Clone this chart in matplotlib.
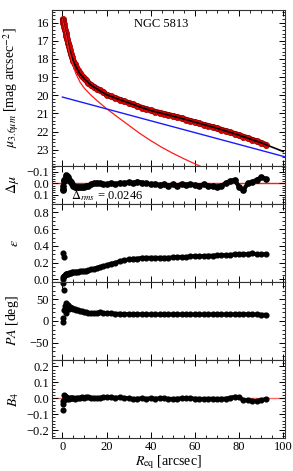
"""Isophote fit profile of NGC 5813: surface brightness, residuals, ellipticity, PA and B4."""
import matplotlib
matplotlib.use("Agg")
import matplotlib.pyplot as plt
from matplotlib.ticker import MultipleLocator

plt.rcParams["font.family"] = ["Liberation Serif", "DejaVu Serif"]
plt.rcParams["mathtext.fontset"] = "stix"
plt.rcParams["xtick.direction"] = "in"
plt.rcParams["ytick.direction"] = "in"

# isophote radii (arcsec)
R_ISO = [0.1, 0.3, 0.5, 0.7, 0.9, 1.2, 1.5, 1.8, 2.1, 2.5, 2.9, 3.3, 3.8,
         4.3, 4.9, 5.5, 6.2, 7.0, 7.8, 8.7, 9.6, 10.6, 11.7, 12.9, 14.2,
         15.6, 17.0, 18.5, 20, 22, 24, 26, 28, 30, 32, 34, 36, 38, 40, 42,
         44, 46, 48, 50, 52, 54, 56, 58, 60, 62, 64, 66, 68, 70, 72, 74, 76,
         78, 80, 82, 84, 86, 88, 90, 92]
MU_ISO = [15.82, 15.9, 16.0, 16.1, 16.22, 16.38, 16.55, 16.72, 16.88, 17.1,
          17.3, 17.5, 17.7, 17.9, 18.1, 18.28, 18.45, 18.62, 18.77, 18.92,
          19.05, 19.17, 19.3, 19.42, 19.53, 19.63, 19.73, 19.82, 19.97,
          20.06, 20.15, 20.24, 20.33, 20.42, 20.51, 20.6, 20.68, 20.76,
          20.84, 20.9, 20.96, 21.02, 21.08, 21.14, 21.2, 21.27, 21.34, 21.41,
          21.48, 21.55, 21.62, 21.68, 21.75, 21.82, 21.89, 21.97, 22.05,
          22.12, 22.2, 22.28, 22.36, 22.45, 22.53, 22.62, 22.72]
DMU_ISO = [0.05, 0.06, 0.02, -0.02, -0.03, -0.04, -0.05, -0.07, -0.06,
           -0.05, -0.03, -0.02, -0.01, 0.01, 0.02, 0.03, 0.03, 0.03, 0.03,
           0.03, 0.03, 0.025, 0.02, 0.01, 0.0, -0.005, 0.0, 0.005, 0.01,
           0.0, 0.01, -0.005, 0.0, -0.01, 0.0, -0.015, -0.005, 0.0, 0.01,
           0.005, 0.015, 0.01, 0.02, 0.01, 0.02, 0.005, 0.015, 0.01, 0.015,
           0.02, 0.01, 0.02, 0.025, 0.03, 0.02, 0.0, -0.02, -0.03, 0.03,
           0.06, 0.0, -0.01, -0.03, -0.05, -0.04]
ELL_ISO = [0.0, 0.03, 0.31, 0.27, 0.04, 0.05, 0.06, 0.06, 0.07, 0.07,
           0.075, 0.08, 0.08, 0.085, 0.085, 0.09, 0.09, 0.095, 0.1, 0.1,
           0.1, 0.105, 0.11, 0.12, 0.13, 0.14, 0.15, 0.16, 0.17, 0.19, 0.2,
           0.22, 0.23, 0.24, 0.25, 0.25, 0.26, 0.26, 0.26, 0.26, 0.26, 0.26,
           0.26, 0.265, 0.27, 0.27, 0.27, 0.275, 0.28, 0.28, 0.28, 0.285,
           0.285, 0.29, 0.29, 0.29, 0.295, 0.3, 0.3, 0.3, 0.305, 0.31, 0.3,
           0.3, 0.3]
PA_ISO = [87, -2, 6, 71, 25, 35, 41, 18, 30, 38, 28, 33, 30, 29, 28, 27, 26,
          25, 24, 22, 21, 20, 19, 18, 18, 19, 20, 19, 18, 18, 17, 17, 16, 16,
          16, 15.5, 15.5, 15, 15, 15, 15, 15, 15, 15, 15, 15, 15, 15, 15, 15,
          15, 15, 15, 15, 15, 15, 15, 15.5, 16, 16, 15.5, 15, 15, 14.6, 14.6]
B4_ISO = [-0.076, -0.035, -0.02, -0.01, 0.02, 0.015, 0.005, 0.0, -0.004,
          0.0, -0.002, 0.002, 0.0, 0.002, 0.0, -0.002, 0.0, 0.003, 0.004,
          0.005, 0.004, 0.006, 0.005, 0.004, 0.003, 0.002, 0.004, 0.005,
          0.006, 0.005, 0.004, 0.006, 0.003, 0.0, -0.004, -0.002, 0.0,
          -0.003, 0.0, -0.002, 0.0, 0.0, -0.003, -0.004, -0.002, 0.0, 0.002,
          0.0, -0.002, -0.003, -0.004, -0.003, -0.002, -0.004, -0.003,
          -0.002, 0.004, 0.01, 0.008, -0.014, -0.01, -0.016, -0.018, -0.012,
          -0.005]

# model components (arcsec, mag arcsec^-2)
R_MODEL = [0, 1, 2, 3, 4, 5, 6, 8, 10, 13, 16, 20, 25, 30, 35, 40, 45, 50,
           55, 60, 65, 70, 80, 90, 100]
MU_TOTAL = [15.8, 16.3, 16.83, 17.35, 17.8, 18.13, 18.4, 18.82, 19.1, 19.45,
            19.68, 19.97, 20.2, 20.42, 20.64, 20.84, 21.0, 21.15, 21.31,
            21.48, 21.65, 21.82, 22.2, 22.62, 23.1]
MU_BULGE = [15.8, 16.35, 16.88, 17.55, 18.0, 18.4, 18.78, 19.28, 19.62, 20.0,
            20.33, 20.74, 21.2, 21.65, 22.1, 22.5, 22.87, 23.2, 23.5, 23.78,
            24.05, 24.3, 24.8, 25.25, 25.7]
R_DISK = [0, 101]
MU_DISK = [20.1, 23.4]

DRMS = 0.0246


def draw_profile(ax, vals, start=0, ms=3.4):
    """Dense isophote sequence: markers, joined into a band past `start`."""
    ax.plot(R_ISO[start:], vals[start:], "-", color="k", lw=ms * 0.8,
            zorder=2, solid_capstyle="round")
    ax.plot(R_ISO, vals, "o", ms=ms, color="k", zorder=2)


fig = plt.figure(figsize=(2.93, 4.71), dpi=100)
left, width = 0.1775, 0.795
ax_mu = fig.add_axes([left, 0.6476, width, 0.3312])
ax_dmu = fig.add_axes([left, 0.5669, width, 0.0807], sharex=ax_mu)
ax_ell = fig.add_axes([left, 0.4013, width, 0.1656], sharex=ax_mu)
ax_pa = fig.add_axes([left, 0.2357, width, 0.1656], sharex=ax_mu)
ax_b4 = fig.add_axes([left, 0.0700, width, 0.1657], sharex=ax_mu)
axes = [ax_mu, ax_dmu, ax_ell, ax_pa, ax_b4]

# surface brightness
ax_mu.plot(R_ISO, MU_ISO, "-", color="#a00000", lw=4.0, zorder=2,
           solid_capstyle="round")
ax_mu.plot(R_ISO, MU_ISO, "o", ms=4.4, mfc="#e00000", mec="#8b0000",
           mew=0.5, zorder=2)
ax_mu.plot(R_MODEL, MU_TOTAL, color="k", lw=1.2, zorder=3)
ax_mu.plot(R_MODEL, MU_BULGE, color="#ff1a1a", lw=0.9, zorder=3)
ax_mu.plot(R_DISK, MU_DISK, color="#1a1aff", lw=1.0, zorder=3)
ax_mu.set_ylim(23.9, 15.3)
ax_mu.yaxis.set_major_locator(MultipleLocator(1))
ax_mu.yaxis.set_minor_locator(MultipleLocator(0.2))
ax_mu.set_ylabel(r"$\mu_{3.6\mu m}$ [mag arcsec$^{-2}$]", fontsize=10)
ax_mu.text(0.47, 0.95, "NGC 5813", transform=ax_mu.transAxes,
           ha="center", va="top", fontsize=9)

# residuals
ax_dmu.axhline(0, color="#ff1a1a", lw=1.0, zorder=1)
draw_profile(ax_dmu, DMU_ISO, start=2, ms=3.8)
ax_dmu.set_ylim(0.18, -0.15)
ax_dmu.yaxis.set_major_locator(MultipleLocator(0.1))
ax_dmu.yaxis.set_minor_locator(MultipleLocator(0.02))
ax_dmu.set_ylabel(r"$\Delta\mu$", fontsize=10)
ax_dmu.text(0.08, 0.03, r"$\Delta_{rms}$ = " + f"{DRMS:.4f}", fontsize=9,
            transform=ax_dmu.transAxes, va="bottom", ha="left")

# ellipticity
draw_profile(ax_ell, ELL_ISO, start=4)
ax_ell.set_ylim(-0.03, 0.9)
ax_ell.yaxis.set_major_locator(MultipleLocator(0.2))
ax_ell.yaxis.set_minor_locator(MultipleLocator(0.05))
ax_ell.set_ylabel(r"$\epsilon$", fontsize=10)

# position angle
draw_profile(ax_pa, PA_ISO, start=8)
ax_pa.set_ylim(-90, 90)
ax_pa.yaxis.set_major_locator(MultipleLocator(50))
ax_pa.yaxis.set_minor_locator(MultipleLocator(10))
ax_pa.set_ylabel(r"$PA$ [deg]", fontsize=10)

# B4
ax_b4.axhline(0, color="#ff6666", lw=1.0, zorder=1)
draw_profile(ax_b4, B4_ISO, start=4)
ax_b4.set_ylim(-0.25, 0.24)
ax_b4.yaxis.set_major_locator(MultipleLocator(0.1))
ax_b4.yaxis.set_minor_locator(MultipleLocator(0.02))
ax_b4.set_ylabel(r"$B_4$", fontsize=10)
ax_b4.set_xlabel(r"$R_{\rm eq}$ [arcsec]", fontsize=10, labelpad=0)

ax_mu.set_xlim(-4.7, 100.8)
ax_mu.xaxis.set_major_locator(MultipleLocator(20))
ax_mu.xaxis.set_minor_locator(MultipleLocator(5))

for ax in axes:
    ax.tick_params(which="both", top=True, right=True, labelsize=9,
                   pad=2)
    ax.tick_params(which="major", length=4, width=0.7)
    ax.tick_params(which="minor", length=2, width=0.6)
    for sp in ax.spines.values():
        sp.set_linewidth(0.8)
        sp.set_color("#333333")
    ax.yaxis.set_label_coords(-0.135, 0.5)
    if ax is not ax_b4:
        ax.tick_params(labelbottom=False)

fig.savefig("out.png", dpi=100)
